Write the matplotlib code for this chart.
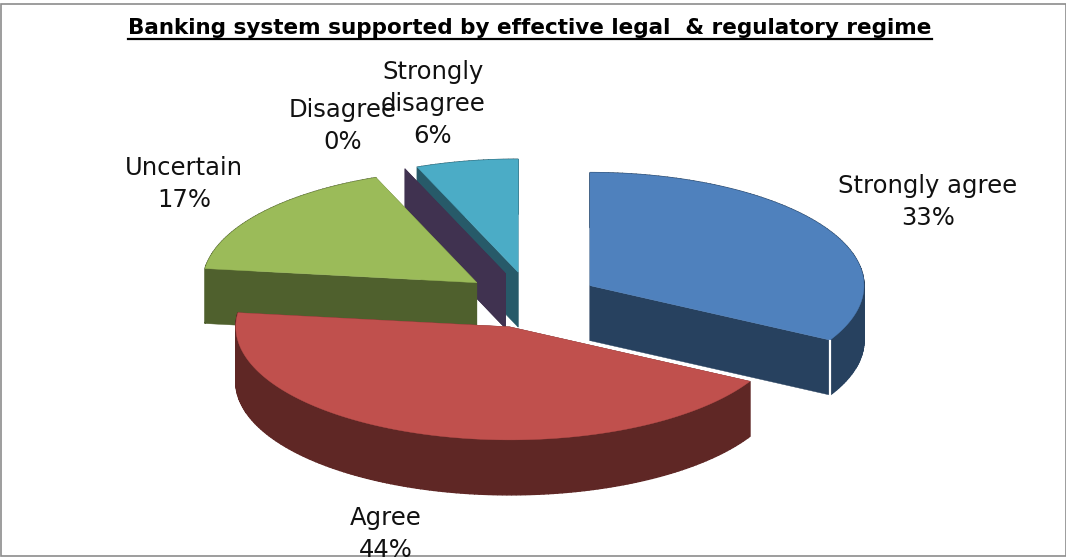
import numpy as np
import matplotlib
matplotlib.use('Agg')
import matplotlib.pyplot as plt
from matplotlib.patches import Polygon, Rectangle

TITLE = 'Banking system supported by effective legal  & regulatory regime'
CATEGORIES = ['Strongly agree', 'Agree', 'Uncertain', 'Disagree', 'Strongly disagree']
VALUES = [33, 44, 17, 0, 6]
TOP_COLORS = ['#4F81BD', '#C0504D', '#9BBB59', '#8064A2', '#4BACC6']
WALL_COLORS = ['#27415F', '#5F2725', '#4F602D', '#403250', '#275A69']

# pie geometry, in image pixels
CX, CY = 531, 300
RX, RY = 274, 113
DEPTH = 55
EXPLODE = 0.25

# label lines per slice, with centre x and y of the first line
LABEL_LINES = [['Strongly agree'], ['Agree'], ['Uncertain'], ['Disagree'], ['Strongly', 'disagree']]
LABEL_POS = [(928, 186), (386, 518), (184, 168), (343, 110), (433, 72)]
LINE_PITCH = 32

# drawing order: back slices first, the red one ends up on top
DRAW_ORDER = [4, 3, 2, 0, 1]

plt.rcParams['font.family'] = ['DejaVu Sans']

fig = plt.figure(figsize=(10.66, 5.57), dpi=100)
ax = fig.add_axes([0, 0, 1, 1])
ax.set_xlim(0, 1066)
ax.set_ylim(557, 0)
ax.axis('off')

frame = Rectangle((0.5, 4), 1065, 552, fc='white', ec='#8c8c8c', lw=1.2, zorder=0)
ax.add_patch(frame)


def ellipse_pts(ox, oy, angles):
    return np.column_stack([ox + RX * np.sin(angles), oy - RY * np.cos(angles)])


def draw_slice(start, end, top_color, wall_color, z):
    mid = (start + end) / 2
    ox = CX + EXPLODE * RX * np.sin(mid)
    oy = CY - EXPLODE * RY * np.cos(mid)
    arc = ellipse_pts(ox, oy, np.linspace(start, end, max(int((end - start) * 60), 2)))
    down = np.array([0, DEPTH])
    apex = np.array([[ox, oy]])
    # two cut faces
    for p in (arc[0], arc[-1]):
        face = np.vstack([apex, [p], [p + down], apex + down])
        ax.add_patch(Polygon(face, fc=wall_color, ec=wall_color, lw=0.3, zorder=z))
    if end > start:
        # outer wall, quad by quad since the outline folds over at the sides
        for a, b in zip(arc[:-1], arc[1:]):
            ax.add_patch(Polygon([a, b, b + down, a + down], fc=wall_color, ec=wall_color, lw=1.0, zorder=z))
        ax.add_patch(Polygon(np.vstack([apex, arc]), fc=top_color, ec=top_color, lw=0.3, zorder=z + 0.5))
    return arc


fractions = np.array(VALUES) / sum(VALUES)
edges = np.concatenate([[0], np.cumsum(fractions)]) * 2 * np.pi

for z, i in enumerate(DRAW_ORDER):
    arc = draw_slice(edges[i], edges[i + 1], TOP_COLORS[i], WALL_COLORS[i], 2 + z)
    if i == 0:
        # white seam at the corner of the first slice
        ax.plot([arc[-1, 0]] * 2, [arc[-1, 1] + 1, arc[-1, 1] + DEPTH], color='white', lw=1.6, zorder=2 + z + 0.6)

for lines, (x, y), v in zip(LABEL_LINES, LABEL_POS, VALUES):
    for k, s in enumerate(lines + [f'{v}%']):
        t = ax.text(x, y + k * LINE_PITCH, s, fontsize=17.5, color='#111111',
                    ha='center', va='center', zorder=10)
        t.set_clip_path(frame)

title = ax.text(530, 28, TITLE, fontsize=15.5, fontweight='bold', color='black',
                ha='center', va='center', zorder=10)
fig.canvas.draw()
bb = title.get_window_extent().transformed(ax.transData.inverted())
ax.plot([bb.x0, bb.x1], [39, 39], color='black', lw=1.6, zorder=10)

plt.savefig('out.png', dpi=100)
